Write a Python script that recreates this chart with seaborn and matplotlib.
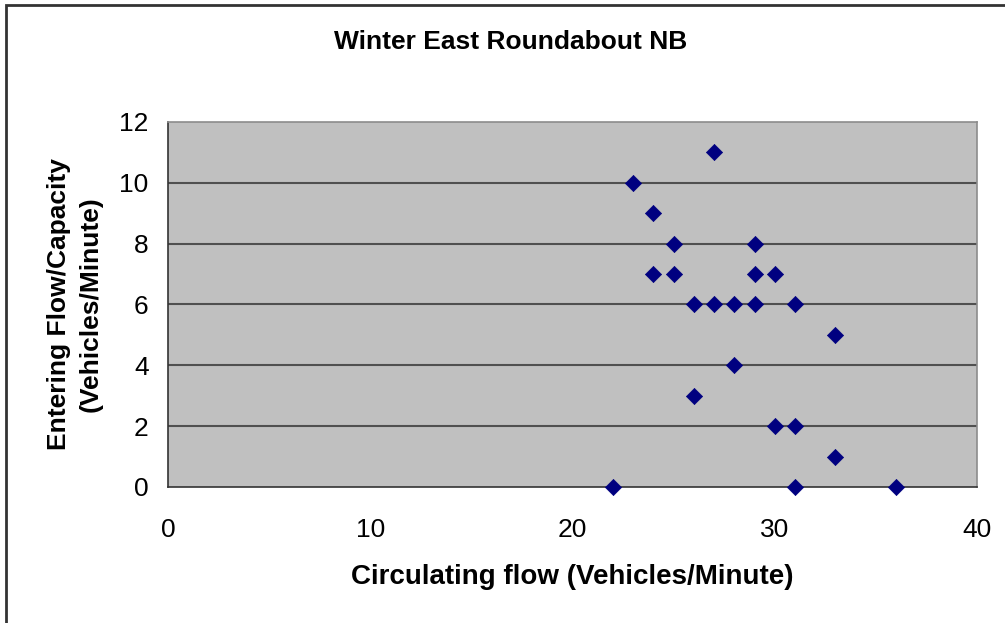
import pandas as pd
import seaborn as sns
import matplotlib.pyplot as plt
from matplotlib.patches import Rectangle

# data
circulating = [22, 23, 24, 24, 25, 25, 26, 26, 27, 27, 28, 28,
               29, 29, 29, 30, 30, 31, 31, 31, 33, 33, 36]
entering = [0, 10, 9, 7, 8, 7, 6, 3, 11, 6, 6, 4,
            8, 7, 6, 7, 2, 6, 2, 0, 5, 1, 0]
x_ticks = [0, 10, 20, 30, 40]
y_ticks = [0, 2, 4, 6, 8, 10, 12]

df = pd.DataFrame({"circ": circulating, "entr": entering})

sns.set_style("white")
plt.rcParams["font.family"] = ["Liberation Sans", "DejaVu Sans"]
plt.rcParams["text.color"] = "black"
plt.rcParams["axes.labelcolor"] = "black"
plt.rcParams["xtick.color"] = "black"
plt.rcParams["ytick.color"] = "black"

fig = plt.figure(figsize=(10.05, 6.23), dpi=100)
ax = fig.add_axes([0.1672, 0.2183, 0.8049, 0.5859])
ax.set_facecolor("#C0C0C0")

sns.scatterplot(data=df, x="circ", y="entr", marker="D", s=68,
                color="#000080", edgecolor="#000080", linewidth=0.5,
                ax=ax, zorder=3, clip_on=False)

ax.set_xlim(0, 40)
ax.set_ylim(0, 12)
ax.set_xticks(x_ticks)
ax.set_yticks(y_ticks)
for y in y_ticks[1:-1]:
    ax.axhline(y, color="#505050", lw=1.5, zorder=1)

ax.tick_params(axis="both", labelsize=19, direction="out", length=7,
               width=1, color="#333333", pad=7)
ax.tick_params(axis="x", pad=15)
for side in ["top", "right"]:
    ax.spines[side].set_color("#8c8c8c")
    ax.spines[side].set_linewidth(1.2)
for side in ["left", "bottom"]:
    ax.spines[side].set_color("#333333")
    ax.spines[side].set_linewidth(1.2)

ax.set_xlabel("Circulating flow (Vehicles/Minute)", fontsize=20,
              fontweight="bold", labelpad=16)
ax.set_ylabel("Entering Flow/Capacity\n(Vehicles/Minute)", fontsize=19,
              fontweight="bold", labelpad=12, linespacing=1.4)
fig.text(0.508, 0.932, "Winter East Roundabout NB", fontsize=19,
         fontweight="bold", ha="center", va="center")

# outer chart border
fig.patches.append(Rectangle((0.006, -0.05), 1.1, 1.042, transform=fig.transFigure,
                             fill=False, edgecolor="#333333", lw=2))

fig.savefig("out.png", dpi=100)
